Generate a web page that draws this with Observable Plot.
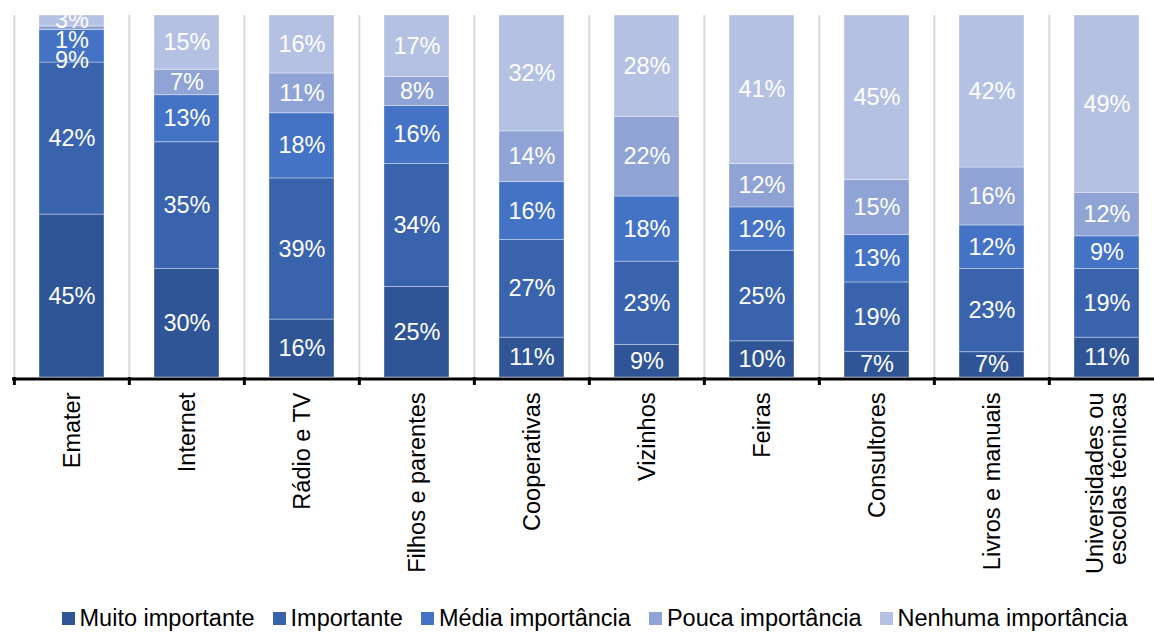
<!DOCTYPE html>
<html>
<head>
<meta charset="utf-8">
<script src="https://cdn.jsdelivr.net/npm/d3@7"></script>
<script src="https://cdn.jsdelivr.net/npm/@observablehq/plot@0.6"></script>
<style>
  html, body { margin: 0; padding: 0; background: #fff; overflow: hidden; }
  #chart svg { display: block; }
  .legend { display: flex; justify-content: center; align-items: center; gap: 18px;
    font-family: "Liberation Sans", Arial, sans-serif; font-size: 23.5px; color: #000;
    height: 28px; padding-top: 4px; padding-left: 35px; margin-top: 0; }
  .legend .item { display: flex; align-items: center; gap: 5px; white-space: nowrap; }
  .legend .sw { width: 13px; height: 13px; display: inline-block; }
</style>
</head>
<body>
<div id="chart"></div>
<div class="legend" id="legend"></div>
<script>
const categories = ["Emater", "Internet", "Rádio e TV", "Filhos e parentes", "Cooperativas",
  "Vizinhos", "Feiras", "Consultores", "Livros e manuais", "Universidades ou\nescolas técnicas"];
const seriesNames = ["Muito importante", "Importante", "Média importância", "Pouca importância", "Nenhuma importância"];
const muitoImportante   = [45, 30, 16, 25, 11,  9, 10,  7,  7, 11];
const importante        = [42, 35, 39, 34, 27, 23, 25, 19, 23, 19];
const mediaImportancia  = [ 9, 13, 18, 16, 16, 18, 12, 13, 12,  9];
const poucaImportancia  = [ 1,  7, 11,  8, 14, 22, 12, 15, 16, 12];
const nenhumaImportancia= [ 3, 15, 16, 17, 32, 28, 41, 45, 42, 49];
const colors = ["#2F5597", "#3A63AE", "#4472C4", "#8FA3D5", "#B5C1E3"];

const seriesValues = [muitoImportante, importante, mediaImportancia, poucaImportancia, nenhumaImportancia];
const data = [];
categories.forEach((c, i) => {
  seriesNames.forEach((s, j) => {
    data.push({category: c, series: s, value: seriesValues[j][i]});
  });
});

const W = 1154, H = 600, mTop = 15, mBottom = 223;
const plotH = H - mTop - mBottom;
const xRange = [12, 1165];
const step = (xRange[1] - xRange[0]) / categories.length;
const font = '"Liberation Sans", Arial, sans-serif';

// Label positions: segment midpoints (normalized), nudged apart from the top down when crowded
const minGap = 20 / plotH;
const labels = [];
categories.forEach((c, i) => {
  const vals = seriesValues.map(a => a[i]);
  const total = d3.sum(vals);
  let cum = 0;
  const mids = vals.map(v => { const m = (cum + v / 2) / total; cum += v; return m; });
  let prev = null;
  for (let j = vals.length - 1; j >= 0; j--) {
    let y = mids[j];
    if (prev !== null && prev - y < minGap) y = prev - minGap;
    prev = y;
    labels.push({category: c, y, text: vals[j] + "%"});
  }
});

const chart = Plot.plot({
  width: W,
  height: H,
  marginTop: mTop,
  marginBottom: mBottom,
  marginLeft: 12,
  marginRight: 0,
  style: {fontFamily: font, fontSize: "23.5px", color: "#000", background: "#fff", overflow: "visible"},
  x: {domain: categories, range: xRange, paddingInner: 0.436, paddingOuter: 0.218, axis: null},
  y: {domain: [0, 1], axis: null},
  color: {domain: seriesNames, range: colors},
  marks: [
    Plot.ruleX(categories, {x: d => d, dx: -step / 2, stroke: "#D9D9D9", strokeWidth: 2}),
    Plot.barY(data, Plot.stackY({offset: "normalize", x: "category", y: "value", fill: "series", z: "series",
      stroke: "#ffffff", strokeOpacity: 0.35, strokeWidth: 1})),
    Plot.text(labels, {x: "category", y: "y", text: "text", fill: "white", fontSize: 23.5, clip: true}),
    Plot.ruleY([0], {stroke: "#000", strokeWidth: 3, dy: 1.5}),
    Plot.ruleX(categories, {x: d => d, dx: -step / 2, stroke: "#000", strokeWidth: 3,
      insetTop: plotH, insetBottom: -8}),
    Plot.axisX({domain: categories, tickRotate: -90, tickSize: 0, tickPadding: 15,
      fontSize: 23.5, fill: "#000", label: null})
  ]
});
document.getElementById("chart").appendChild(chart);

const legend = document.getElementById("legend");
seriesNames.forEach((s, i) => {
  const item = document.createElement("span");
  item.className = "item";
  const sw = document.createElement("span");
  sw.className = "sw";
  sw.style.background = colors[i];
  const t = document.createElement("span");
  t.textContent = s;
  item.appendChild(sw);
  item.appendChild(t);
  legend.appendChild(item);
});
</script>
</body>
</html>
